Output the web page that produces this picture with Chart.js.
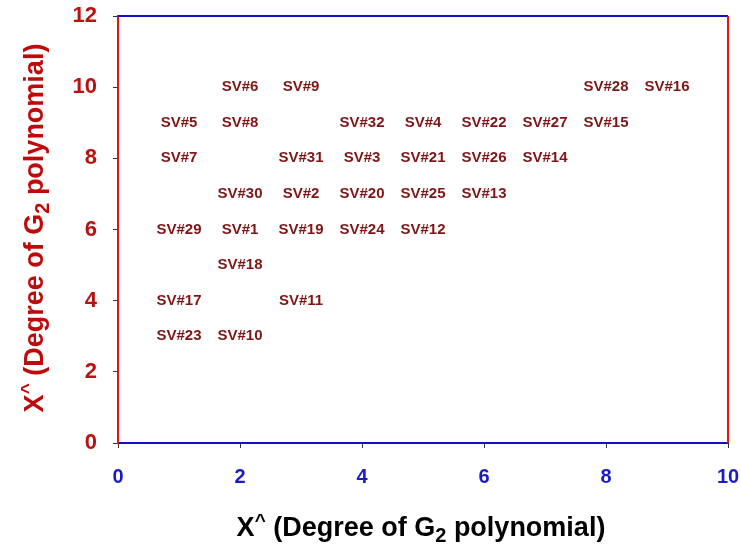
<!DOCTYPE html>
<html>
<head>
<meta charset="utf-8">
<script src="https://cdn.jsdelivr.net/npm/chart.js@4"></script>
<style>
  html, body { margin: 0; padding: 0; background: #fff; }
  #wrap { width: 741px; height: 548px; }
</style>
</head>
<body>
<div id="wrap"><canvas id="svChart" width="741" height="548"></canvas></div>
<script>
// support vector labels and their grid positions
const svNames = [
  'SV#6', 'SV#9', 'SV#28', 'SV#16',
  'SV#5', 'SV#8', 'SV#32', 'SV#4', 'SV#22', 'SV#27', 'SV#15',
  'SV#7', 'SV#31', 'SV#3', 'SV#21', 'SV#26', 'SV#14',
  'SV#30', 'SV#2', 'SV#20', 'SV#25', 'SV#13',
  'SV#29', 'SV#1', 'SV#19', 'SV#24', 'SV#12',
  'SV#18',
  'SV#17', 'SV#11',
  'SV#23', 'SV#10'
];
const svX = [
  2, 3, 8, 9,
  1, 2, 4, 5, 6, 7, 8,
  1, 3, 4, 5, 6, 7,
  2, 3, 4, 5, 6,
  1, 2, 3, 4, 5,
  2,
  1, 3,
  1, 2
];
const svY = [
  10, 10, 10, 10,
  9, 9, 9, 9, 9, 9, 9,
  8, 8, 8, 8, 8, 8,
  7, 7, 7, 7, 7,
  6, 6, 6, 6, 6,
  5,
  4, 4,
  3, 3
];
const xRange = [0, 10];
const yRange = [0, 12];
// axis title pieces: [text, size, baseline shift]
const titleParts = [
  ['X', 27, 0],
  ['^', 19, -9],
  [' (Degree of G', 27, 0],
  ['2', 20, 6],
  [' polynomial)', 27, 0]
];

const FONT = 'Arial, "Liberation Sans", sans-serif';

const pointLabels = {
  id: 'pointLabels',
  afterDatasetsDraw(chart) {
    const ctx = chart.ctx;
    const meta = chart.getDatasetMeta(0);
    ctx.save();
    ctx.font = 'bold 15px ' + FONT;
    ctx.fillStyle = '#7d1616';
    ctx.textAlign = 'center';
    ctx.textBaseline = 'middle';
    meta.data.forEach((pt, i) => {
      ctx.fillText(svNames[i], pt.x, pt.y);
    });
    ctx.restore();
  }
};

function drawTitle(ctx, cx, cy, angle, color) {
  ctx.save();
  ctx.translate(cx, cy);
  ctx.rotate(angle);
  ctx.fillStyle = color;
  ctx.textAlign = 'left';
  ctx.textBaseline = 'alphabetic';
  let total = 0;
  titleParts.forEach(([t, s]) => {
    ctx.font = 'bold ' + s + 'px ' + FONT;
    total += ctx.measureText(t).width;
  });
  let x = -total / 2;
  titleParts.forEach(([t, s, dy]) => {
    ctx.font = 'bold ' + s + 'px ' + FONT;
    ctx.fillText(t, x, dy);
    x += ctx.measureText(t).width;
  });
  ctx.restore();
}

// frame lines on top/right and both axis titles
const frame = {
  id: 'frame',
  afterDraw(chart) {
    const { ctx, chartArea: a } = chart;
    ctx.save();
    ctx.lineWidth = 2;
    ctx.strokeStyle = '#1010c8';
    ctx.beginPath();
    ctx.moveTo(a.left, a.top);
    ctx.lineTo(a.right, a.top);
    ctx.stroke();
    ctx.strokeStyle = '#e81010';
    ctx.beginPath();
    ctx.moveTo(a.right, a.top);
    ctx.lineTo(a.right, a.bottom);
    ctx.stroke();
    ctx.restore();

    drawTitle(ctx, (a.left + a.right) / 2 - 2, 536, 0, '#000');
    drawTitle(ctx, 43, 228, -Math.PI / 2, '#c00a0a');
  }
};

new Chart(document.getElementById('svChart'), {
  type: 'scatter',
  data: {
    datasets: [{
      data: svX.map((x, i) => ({ x: x, y: svY[i] })),
      pointRadius: 0,
      pointHoverRadius: 0
    }]
  },
  options: {
    responsive: false,
    animation: false,
    events: [],
    layout: { padding: { top: 16, right: 13, left: 0, bottom: 0 } },
    plugins: {
      legend: { display: false },
      tooltip: { enabled: false }
    },
    scales: {
      x: {
        min: xRange[0],
        max: xRange[1],
        afterFit(scale) {
          scale.height = 105;
          scale.paddingLeft = 0;
          scale.paddingRight = 0;
        },
        border: { color: '#1010c8', width: 2 },
        grid: { drawOnChartArea: false, color: '#333', tickLength: 5 },
        ticks: {
          stepSize: 2,
          padding: 17,
          color: '#1a1ac8',
          font: { family: FONT, size: 20, weight: 'bold' }
        }
      },
      y: {
        min: yRange[0],
        max: yRange[1],
        afterFit(scale) {
          scale.width = 118;
          scale.paddingTop = 0;
          scale.paddingBottom = 0;
        },
        border: { color: '#e81010', width: 2 },
        grid: { drawOnChartArea: false, color: '#333', tickLength: 5 },
        ticks: {
          stepSize: 2,
          padding: 16,
          color: '#b81212',
          font: { family: FONT, size: 22, weight: 'bold' }
        }
      }
    }
  },
  plugins: [pointLabels, frame]
});
</script>
</body>
</html>
